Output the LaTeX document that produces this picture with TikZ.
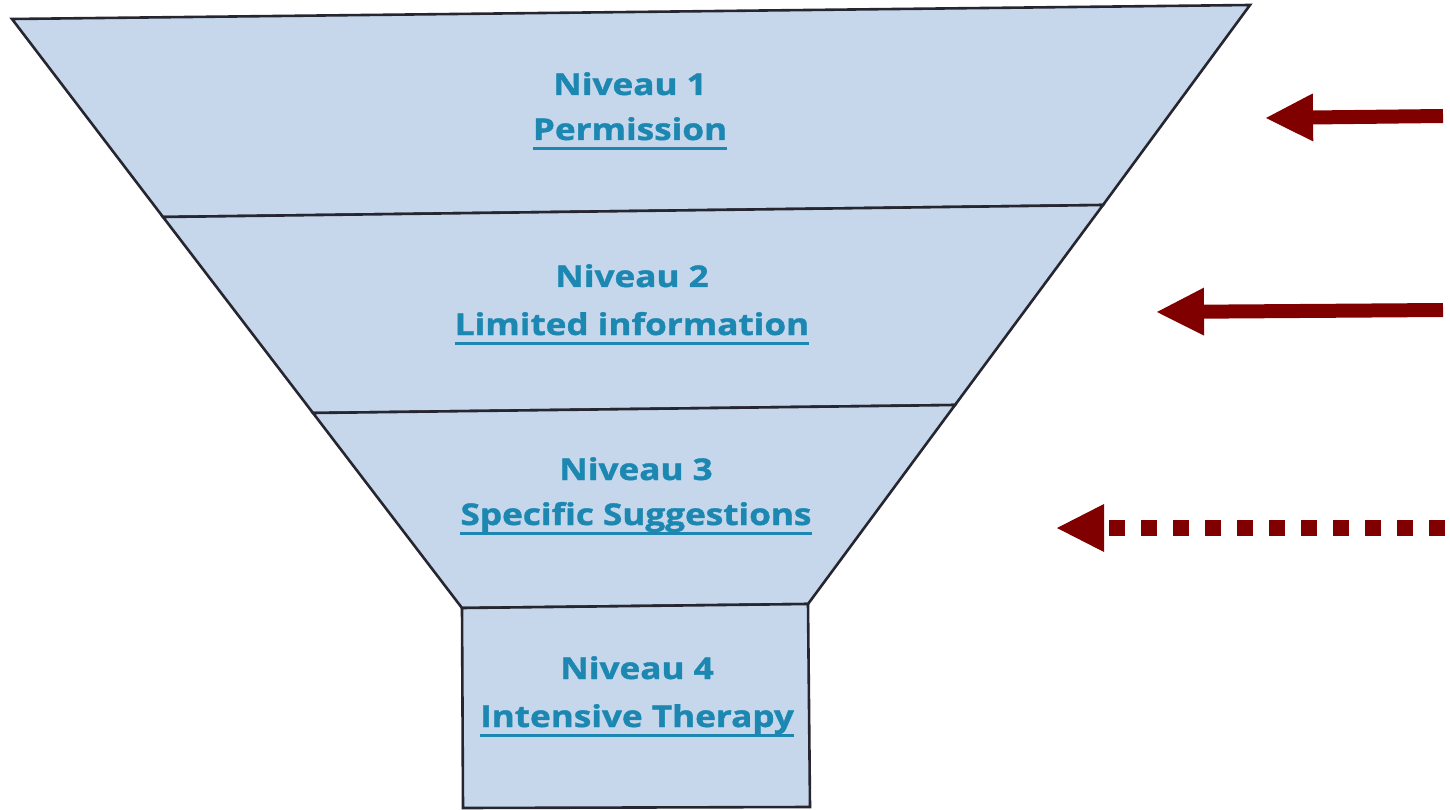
\documentclass[tikz,border=0pt]{standalone}
\usepackage{fontspec}
\usetikzlibrary{arrows.meta}
\newfontfamily\lblfont{Open Sans}[FakeStretch=1.17, FakeBold=1.3]
\definecolor{funnelfill}{RGB}{198,215,236}
\definecolor{edgecol}{RGB}{38,38,48}
\definecolor{lbltext}{RGB}{28,136,178}
\definecolor{arrred}{RGB}{128,0,0}
\tikzset{
  levelshape/.style={fill=funnelfill, draw=edgecol, line width=2.6pt},
  lbl/.style={font=\lblfont\bfseries\fontsize{30}{32}\selectfont, text=lbltext, inner sep=0pt, anchor=base},
  uline/.style={draw=lbltext, line width=2.4pt},
  bigarrow/.style={draw=arrred, line width=14pt, -{Triangle[length=47pt,width=48pt,line width=0pt]}},
  dotarrow/.style={draw=arrred, line width=16pt, dash pattern=on 16.5pt off 15.5pt, -{Triangle[length=47pt,width=48pt,line width=0pt]}}
}
\begin{document}
\begin{tikzpicture}[x=1pt,y=-1pt]
\useasboundingbox (0,0) rectangle (1450,810);
% funnel corners
\coordinate (tl) at (12,19);
\coordinate (tr) at (1250,5);
\coordinate (l1) at (163,217);
\coordinate (r1) at (1103,205);
\coordinate (l2) at (313,413);
\coordinate (r2) at (955,405);
\coordinate (l3) at (462,608);
\coordinate (r3) at (808,604);
\coordinate (bl) at (463,808);
\coordinate (br) at (810,807);
% levels
\draw[levelshape] (tl) -- (tr) -- (r1) -- (l1) -- cycle;
\draw[levelshape] (l1) -- (r1) -- (r2) -- (l2) -- cycle;
\draw[levelshape] (l2) -- (r2) -- (r3) -- (l3) -- cycle;
\draw[levelshape] (l3) -- (r3) -- (br) -- (bl) -- cycle;
% labels
\node[lbl] (t1) at (630,95) {Niveau 1};
\node[lbl] (n1) at (630,140) {Permission};
\node[lbl] (t2) at (632,287) {Niveau 2};
\node[lbl] (n2) at (632,335) {Limited information};
\node[lbl] (t3) at (636,480) {Niveau 3};
\node[lbl] (n3) at (636,525) {Specific Suggestions};
\node[lbl] (t4) at (637,679) {Niveau 4};
\node[lbl] (n4) at (637,727) {Intensive Therapy};
\foreach \n in {n1,n2,n3,n4}
  \draw[uline] ([yshift=-8.5pt]\n.base west) -- ([yshift=-8.5pt]\n.base east);
% arrows
\coordinate (a1tail) at (1443,116);
\coordinate (a1tip) at (1266,118);
\coordinate (a2tail) at (1443,310);
\coordinate (a2tip) at (1157,312);
\coordinate (a3tail) at (1445,528);
\coordinate (a3tip) at (1057,528);
\draw[bigarrow] (a1tail) -- (a1tip);
\draw[bigarrow] (a2tail) -- (a2tip);
\draw[dotarrow] (a3tail) -- (a3tip);
\end{tikzpicture}
\end{document}
